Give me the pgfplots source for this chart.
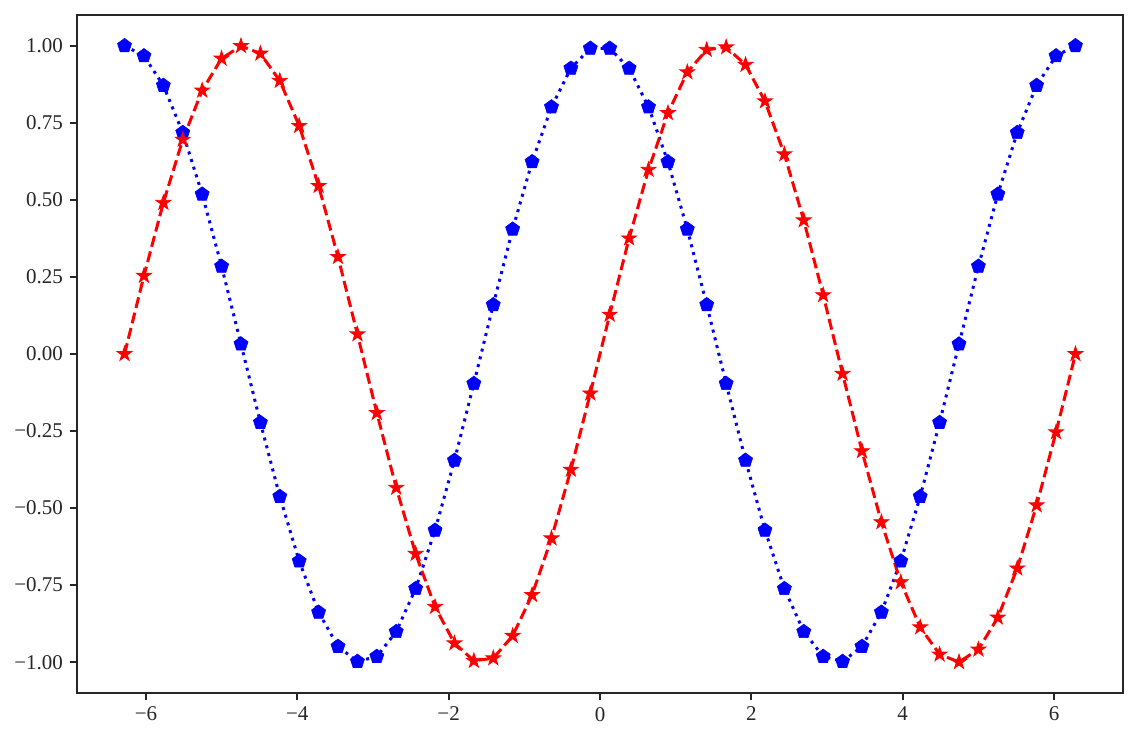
\documentclass[border=0pt]{standalone}
\usepackage{fontspec}
\setmainfont{Liberation Serif}
\usepackage{pgfplots}
\usepackage{pgfplotstable}
\pgfplotsset{compat=1.18}
\usetikzlibrary{plotmarks}

\definecolor{spine}{HTML}{262626}

% filled five-pointed star, like matplotlib's '*'
\pgfdeclareplotmark{fstar}{%
  \pgfpathmoveto{\pgfpointpolar{90}{\pgfplotmarksize}}%
  \pgfpathlineto{\pgfpointpolar{126}{0.382\pgfplotmarksize}}%
  \pgfpathlineto{\pgfpointpolar{162}{\pgfplotmarksize}}%
  \pgfpathlineto{\pgfpointpolar{198}{0.382\pgfplotmarksize}}%
  \pgfpathlineto{\pgfpointpolar{234}{\pgfplotmarksize}}%
  \pgfpathlineto{\pgfpointpolar{270}{0.382\pgfplotmarksize}}%
  \pgfpathlineto{\pgfpointpolar{306}{\pgfplotmarksize}}%
  \pgfpathlineto{\pgfpointpolar{342}{0.382\pgfplotmarksize}}%
  \pgfpathlineto{\pgfpointpolar{18}{\pgfplotmarksize}}%
  \pgfpathlineto{\pgfpointpolar{54}{0.382\pgfplotmarksize}}%
  \pgfpathclose
  \pgfusepathqfillstroke
}

% x, cos(x), sin(x) at 50 points over [-2pi, 2pi]
\pgfplotstableread{
x       c        s
-6.2832  1.0000  0.0000
-6.0267  0.9673  0.2537
-5.7703  0.8713  0.4907
-5.5138  0.7183  0.6957
-5.2574  0.5184  0.8551
-5.0009  0.2845  0.9587
-4.7444  0.0321  0.9995
-4.4880 -0.2225  0.9749
-4.2315 -0.4625  0.8866
-3.9751 -0.6723  0.7403
-3.7186 -0.8381  0.5455
-3.4622 -0.9491  0.3151
-3.2057 -0.9979  0.0641
-2.9493 -0.9816 -0.1912
-2.6928 -0.9010 -0.4339
-2.4363 -0.7614 -0.6482
-2.1799 -0.5721 -0.8202
-1.9234 -0.3454 -0.9385
-1.6670 -0.0960 -0.9954
-1.4105  0.1596 -0.9872
-1.1541  0.4048 -0.9144
-0.8976  0.6235 -0.7818
-0.6411  0.8014 -0.5981
-0.3847  0.9269 -0.3753
-0.1282  0.9918 -0.1279
 0.1282  0.9918  0.1279
 0.3847  0.9269  0.3753
 0.6411  0.8014  0.5981
 0.8976  0.6235  0.7818
 1.1541  0.4048  0.9144
 1.4105  0.1596  0.9872
 1.6670 -0.0960  0.9954
 1.9234 -0.3454  0.9385
 2.1799 -0.5721  0.8202
 2.4363 -0.7614  0.6482
 2.6928 -0.9010  0.4339
 2.9493 -0.9816  0.1912
 3.2057 -0.9979 -0.0641
 3.4622 -0.9491 -0.3151
 3.7186 -0.8381 -0.5455
 3.9751 -0.6723 -0.7403
 4.2315 -0.4625 -0.8866
 4.4880 -0.2225 -0.9749
 4.7444  0.0321 -0.9995
 5.0009  0.2845 -0.9587
 5.2574  0.5184 -0.8551
 5.5138  0.7183 -0.6957
 5.7703  0.8713 -0.4907
 6.0267  0.9673 -0.2537
 6.2832  1.0000  0.0000
}\trig

\begin{document}
\begin{tikzpicture}
\begin{axis}[
  scale only axis,
  width=523pt, height=339pt,
  xmin=-6.9115, xmax=6.9115,
  ymin=-1.1, ymax=1.1,
  xtick={-6,-4,...,6},
  xticklabels={−6,−4,−2,0,2,4,6},
  ytick={-1,-0.75,...,1},
  yticklabels={−1.00,−0.75,−0.50,−0.25,0.00,0.25,0.50,0.75,1.00},
  tick align=outside,
  tick pos=left,
  major tick length=3.5pt,
  every tick/.style={spine, line width=1pt},
  axis line style={spine, line width=1.1pt},
  tick label style={font=\fontsize{10.5}{12}\selectfont, text=spine},
  clip=false,
]
\addplot[blue, line width=1.5pt, dash pattern=on 1.5pt off 2.5pt,
  mark=pentagon*, mark size=3.7pt,
  mark options={solid, fill=blue, line width=0.3pt}] table[x=x, y=c] {\trig};
\addplot[red, line width=1.5pt, dash pattern=on 5.5pt off 2.4pt,
  mark=fstar, mark size=3.9pt,
  mark options={solid, fill=red, line width=0.4pt}] table[x=x, y=s] {\trig};
\end{axis}
\pgfresetboundingbox
\path[use as bounding box] ([xshift=-38.5pt, yshift=-24.5pt]current axis.south west)
  rectangle ([xshift=7.5pt, yshift=7.5pt]current axis.north east);
\end{tikzpicture}
\end{document}
